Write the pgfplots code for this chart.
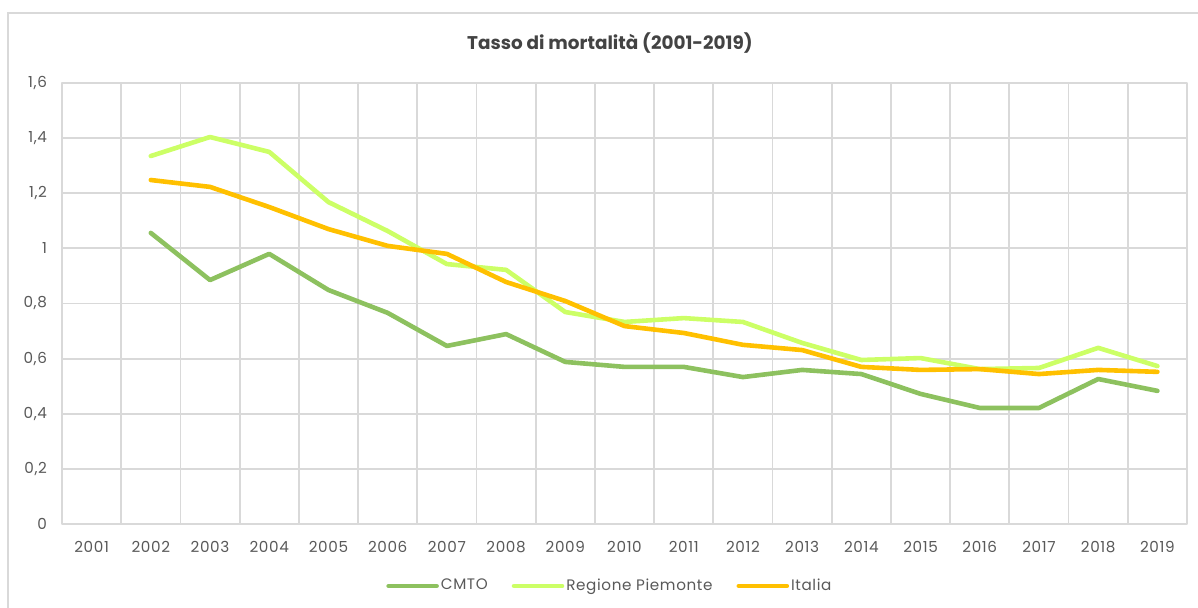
\documentclass[border=0pt]{standalone}
\usepackage{pgfplots}
\pgfplotsset{compat=1.18}
\usepackage{fontspec}
\setmainfont{Poppins}[LetterSpace=4]
\newfontfamily\titlefont{Poppins}
\definecolor{cmto}{HTML}{8DC15F}
\definecolor{piem}{HTML}{CCFF66}
\definecolor{ital}{HTML}{FFC000}
\definecolor{gridc}{HTML}{D9D9D9}
\definecolor{txt}{HTML}{595959}
\begin{document}
\begin{tikzpicture}[x=1pt,y=1pt]
\useasboundingbox (0,0) rectangle (599,304);
\clip (0,0) rectangle (599,304);
\draw[gridc, line width=0.8pt] (4,-5) rectangle (606,297.5);
\begin{axis}[
  at={(31pt,42pt)}, anchor=south west,
  scale only axis, width=562.5pt, height=220.5pt,
  xmin=0.5, xmax=19.5, ymin=0, ymax=1.6,
  xtick={1,...,19},
  xticklabels={2001,2002,2003,2004,2005,2006,2007,2008,2009,2010,2011,2012,2013,2014,2015,2016,2017,2018,2019},
  minor xtick={1.5,2.5,...,18.5},
  ytick={0,0.2,0.4,0.6,0.8,1,1.2,1.4,1.6},
  yticklabels={0,{0,2},{0,4},{0,6},{0,8},1,{1,2},{1,4},{1,6}},
  xminorgrids=true, ymajorgrids=true,
  minor grid style={gridc, line width=0.9pt},
  major grid style={gridc, line width=0.9pt},
  axis line style={gridc, line width=0.9pt},
  major tick length=0pt, minor tick length=0pt,
  tick label style={font=\fontsize{7.6}{8}\selectfont, text=txt},
  xticklabel style={yshift=-5pt},
  yticklabel style={xshift=-4pt},
  title={\titlefont\bfseries Tasso di mortalità (2001-2019)},
  title style={at={(0.487,1.0635)}, anchor=center, font=\fontsize{9.2}{10}\selectfont, text=txt!75!black},
  legend columns=3,
  legend style={at={(0.487,-0.1406)}, anchor=center, draw=none, fill=none,
    font=\fontsize{7.6}{8}\selectfont, text=txt,
    nodes={inner xsep=1pt},
    /tikz/every even column/.append style={column sep=11pt}},
  legend image code/.code={\draw[#1, line cap=round] (0pt,0pt) -- (24pt,0pt);},
  line join=round,
]
\addplot[cmto, line width=2.3pt, line cap=round] coordinates {
(2,1.056)(3,0.885)(4,0.980)(5,0.849)(6,0.766)(7,0.646)(8,0.689)(9,0.588)(10,0.570)(11,0.570)(12,0.533)(13,0.559)(14,0.544)(15,0.472)(16,0.421)(17,0.421)(18,0.526)(19,0.483)};
\addlegendentry{CMTO}
\addplot[piem, line width=2.3pt, line cap=round] coordinates {
(2,1.335)(3,1.404)(4,1.350)(5,1.168)(6,1.063)(7,0.943)(8,0.922)(9,0.769)(10,0.733)(11,0.747)(12,0.733)(13,0.657)(14,0.595)(15,0.602)(16,0.562)(17,0.566)(18,0.639)(19,0.573)};
\addlegendentry{Regione Piemonte}
\addplot[ital, line width=2.3pt, line cap=round] coordinates {
(2,1.248)(3,1.223)(4,1.150)(5,1.070)(6,1.009)(7,0.980)(8,0.878)(9,0.809)(10,0.718)(11,0.693)(12,0.650)(13,0.631)(14,0.570)(15,0.559)(16,0.562)(17,0.544)(18,0.559)(19,0.552)};
\addlegendentry{Italia}
\end{axis}
\end{tikzpicture}
\end{document}
